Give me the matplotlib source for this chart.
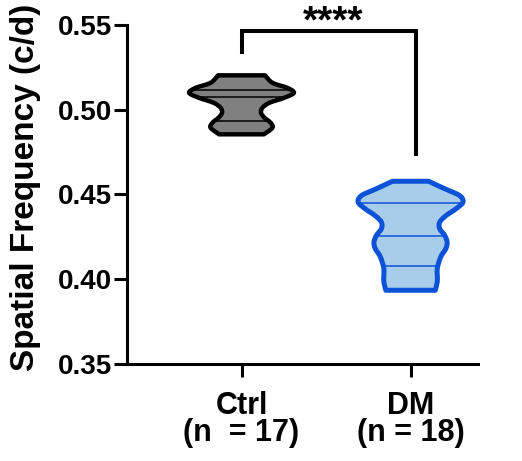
import numpy as np
import matplotlib
matplotlib.use("Agg")
import matplotlib.pyplot as plt
from matplotlib.path import Path
from matplotlib.patches import PathPatch

# values
groups = ["Ctrl\n(n  = 17)", "DM\n(n = 18)"]

ctrl_levels = [0.4855, 0.4894, 0.4924, 0.4953, 0.4982, 0.5012, 0.5041,
               0.5071, 0.5100, 0.5129, 0.5159, 0.5203]
ctrl_density = [22.5, 31, 29, 23, 19.5, 21, 28, 43, 52.5, 46, 31, 23.5]
ctrl_quartiles = [0.4933, 0.5075, 0.5114]

dm_levels = [0.3935, 0.3984, 0.4024, 0.4063, 0.4102, 0.4141, 0.4181, 0.4219,
             0.4259, 0.4298, 0.4337, 0.4376, 0.4416, 0.4455, 0.4494, 0.4534,
             0.4578]
dm_density = [25, 27, 27, 27, 28.7, 31.3, 35.7, 37, 34.5, 29.5, 29.5, 36, 46,
              53, 49.5, 34.5, 18.3]
dm_quartiles = [0.4078, 0.4253, 0.4451]

yticks = [0.35, 0.40, 0.45, 0.50, 0.55]
stars = "****"

FONT = "Liberation Sans"
HALF_WIDTH = 0.31


def _bezier_through(pts):
    """Cubic bezier vertices (Catmull-Rom) passing through pts[1:]."""
    pts = np.asarray(pts, float)
    ext = np.vstack([pts[0], pts, pts[-1]])
    verts = []
    for i in range(1, len(ext) - 2):
        p0, p1, p2, p3 = ext[i - 1], ext[i], ext[i + 1], ext[i + 2]
        verts += [p1 + (p2 - p0) / 6, p2 - (p3 - p1) / 6, p2]
    return verts


def violin_path(center, levels, density):
    w = np.asarray(density, float)
    w = w / w.max() * HALF_WIDTH
    y = np.asarray(levels, float)
    right = np.column_stack([center + w, y])
    left = np.column_stack([center - w, y])[::-1]

    verts = [left[-1], right[0]]
    codes = [Path.MOVETO, Path.LINETO]
    seg = _bezier_through(right)
    verts += seg
    codes += [Path.CURVE4] * len(seg)
    verts.append(left[0])
    codes.append(Path.LINETO)
    seg = _bezier_through(left)
    verts += seg
    codes += [Path.CURVE4] * len(seg)
    verts.append(left[-1])
    codes.append(Path.CLOSEPOLY)
    return Path(verts, codes)


def draw_violin(ax, center, levels, density, quartiles, face, edge, lw):
    path = violin_path(center, levels, density)
    fill = PathPatch(path, facecolor=face, edgecolor="none", zorder=2)
    ax.add_patch(fill)
    lines = ax.hlines(quartiles, center - 1, center + 1, colors=edge,
                      linewidth=1.1, zorder=3)
    lines.set_clip_path(fill)
    ax.add_patch(PathPatch(path, facecolor="none", edgecolor=edge,
                           linewidth=lw, joinstyle="round", zorder=4))


fig = plt.figure(figsize=(5.22, 4.61), dpi=100)
ax = fig.add_axes([0.2433, 0.2104, 0.6724, 0.7354])

draw_violin(ax, 0, ctrl_levels, ctrl_density, ctrl_quartiles,
            "#808080", "black", 3.2)
draw_violin(ax, 1, dm_levels, dm_density, dm_quartiles,
            "#a8cdeb", "#0c52d8", 3.6)

ax.set_xlim(-0.6775, 1.399)
ax.set_ylim(0.35, 0.55)
ax.set_yticks(yticks)
ax.set_yticklabels([f"{v:.2f}" for v in yticks],
                   fontsize=20, fontweight="bold", family=FONT)
ax.set_xticks([0, 1])
ax.set_xticklabels(groups, fontsize=22, fontweight="bold", family=FONT,
                   linespacing=0.88)

for side in ("top", "right"):
    ax.spines[side].set_visible(False)
for side in ("left", "bottom"):
    ax.spines[side].set_linewidth(2.2)
ax.tick_params(axis="both", width=2.2, length=9.5, pad=1.5)
ax.tick_params(axis="x", pad=10)

ax.text(-0.29, 0.52, "Spatial Frequency (c/d)", transform=ax.transAxes,
        rotation=90, ha="center", va="center", fontsize=24,
        fontweight="bold", family=FONT)

# significance bracket
ax.plot([0, 0, 1.03, 1.03], [0.5343, 0.5466, 0.5466, 0.4737], color="black",
        linewidth=2.9, solid_joinstyle="miter", clip_on=False, zorder=5)
ax.text(0.541, 0.5512, stars, ha="center", va="center", fontsize=28,
        fontweight="bold", family=FONT, clip_on=False)

fig.savefig("out.png", dpi=100)
